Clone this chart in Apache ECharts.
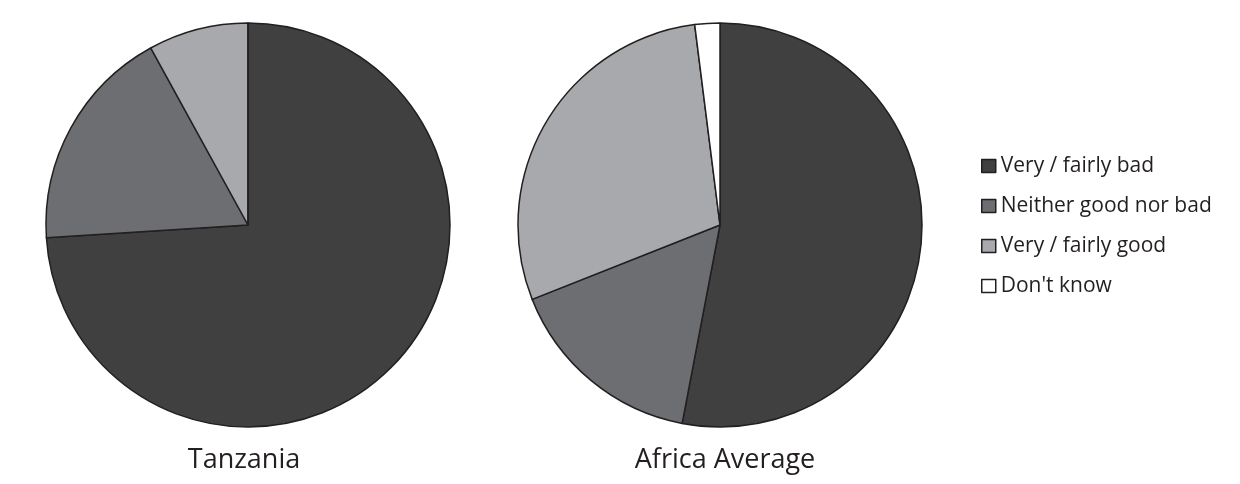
<!DOCTYPE html>
<html><head><meta charset="utf-8">
<script src="https://cdn.jsdelivr.net/npm/echarts@6/dist/echarts.min.js"></script>
<style>html,body{margin:0;padding:0;background:#fff}#c{width:1240px;height:484px}</style>
</head><body><div id="c"></div>
<script>
const categories = ["Very / fairly bad", "Neither good nor bad", "Very / fairly good", "Don't know"];
const tanzania = [74, 18, 8, 0];
const africa = [53, 16, 29, 2];
const pieTitles = ["Tanzania", "Africa Average"];
const colors = ["#404041", "#6d6e71", "#a7a9ac", "#ffffff"];

const chart = echarts.init(document.getElementById('c'));
function mk(vals){ return categories.map((n,i)=>({name:n, value:vals[i]})); }
const common = {
  type:'pie', radius:202, startAngle:90, clockwise:true,
  label:{show:false}, labelLine:{show:false}, silent:true,
  itemStyle:{borderColor:'#231f20', borderWidth:1.5},
  emphasis:{disabled:true}, animation:false
};
const titleStyle = {fontFamily:'Open Sans', fontSize:27, fontWeight:'normal', color:'#231f20'};
chart.setOption({
  animation:false,
  color: colors,
  title:[
    {text:pieTitles[0], left:239, top:442, textAlign:'center', textStyle:titleStyle},
    {text:pieTitles[1], left:720, top:442, textAlign:'center', textStyle:titleStyle}
  ],
  legend:{
    orient:'vertical', left:981, top:155, padding:0, icon:'rect', itemWidth:14, itemHeight:13, itemGap:18,
    selectedMode:false,
    itemStyle:{borderColor:'#231f20', borderWidth:1.5},
    textStyle:{fontFamily:'Open Sans', fontSize:21, color:'#231f20', lineHeight:22},
    data: categories
  },
  series:[
    Object.assign({}, common, {center:[248,225], data:mk(tanzania)}),
    Object.assign({}, common, {center:[720,225], data:mk(africa)})
  ]
});
</script></body></html>
